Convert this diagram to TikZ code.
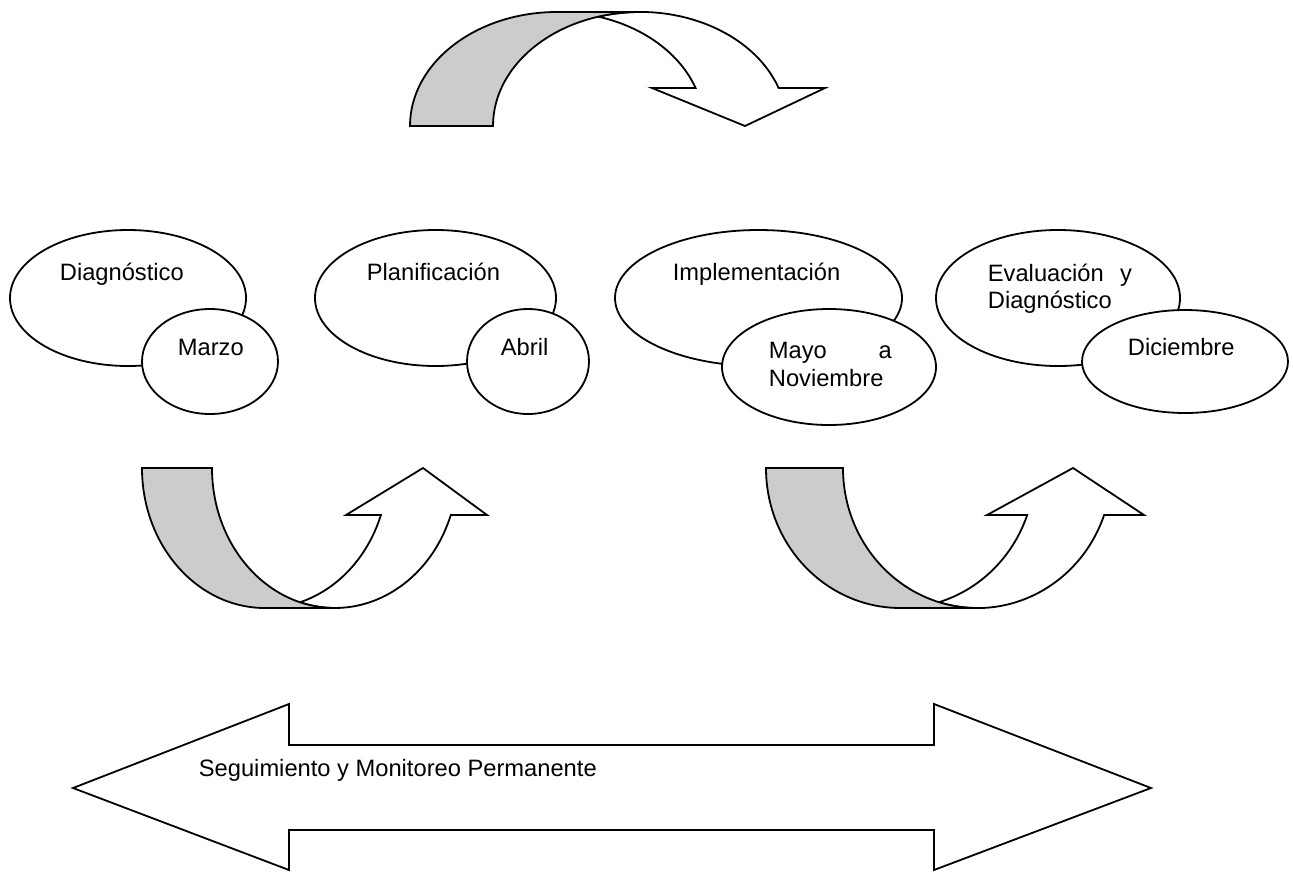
\documentclass[tikz,border=0pt]{standalone}
\usepackage{fontspec}
\setmainfont{Liberation Sans}
\usetikzlibrary{shapes.geometric}
\definecolor{bandgray}{RGB}{204,204,204}
\begin{document}
\begin{tikzpicture}[x=1pt,y=-1pt,line width=1.8pt,line join=miter,
  bubble/.style={draw,ellipse,fill=white,inner sep=0pt},
  lbl/.style={inner sep=0pt,anchor=base west,font=\fontsize{23.7}{28}\selectfont},
  band/.style={draw,fill=bandgray},
  head/.style={draw,fill=white}]
\useasboundingbox (0,0) rectangle (1293,871);

% top curved arrow
\draw[head] (598.5,16.6) arc[start angle=253.6,end angle=340.5,x radius=147,y radius=114]
  -- (825,88) -- (745,126) -- (652,88) -- (695.6,88)
  arc[start angle=340.5,end angle=286.4,x radius=147,y radius=114] -- cycle;
\draw[band] (410,126) arc[start angle=180,end angle=270,x radius=147,y radius=114]
  -- (640,12) arc[start angle=270,end angle=180,x radius=147,y radius=114] -- cycle;

% bottom-left curved arrow
\draw[head] (300,602.2) arc[start angle=106.5,end angle=19.6,x radius=123,y radius=140]
  -- (487,515) -- (423,468) -- (346,515) -- (380.9,515)
  arc[start angle=19.6,end angle=73.5,x radius=123,y radius=140] -- cycle;
\draw[band] (142,468) arc[start angle=180,end angle=90,x radius=123,y radius=140]
  -- (335,608) arc[start angle=90,end angle=180,x radius=123,y radius=140] -- cycle;

% bottom-right curved arrow
\draw[head] (939,602.2) arc[start angle=106.6,end angle=19.6,x radius=134.5,y radius=140]
  -- (1144,515) -- (1073,468) -- (987,515) -- (1027.2,515)
  arc[start angle=19.6,end angle=73.4,x radius=134.5,y radius=140] -- cycle;
\draw[band] (766,468) arc[start angle=180,end angle=90,x radius=134.5,y radius=140]
  -- (977.5,608) arc[start angle=90,end angle=180,x radius=134.5,y radius=140] -- cycle;

% double arrow
\draw[head] (73,788) -- (289,704) -- (289,745) -- (934,745) -- (934,704) -- (1151,788)
  -- (934,870) -- (934,830) -- (289,830) -- (289,870) -- cycle;

% ellipses
\node[bubble,minimum width=236pt,minimum height=136pt] (diag) at (128,298) {};
\node[bubble,minimum width=136pt,minimum height=105pt] (marzo) at (210,361.5) {};
\node[bubble,minimum width=241pt,minimum height=136pt] (plan) at (435.5,298) {};
\node[bubble,minimum width=122pt,minimum height=105pt] (abril) at (528,361.5) {};
\node[bubble,minimum width=287pt,minimum height=136pt] (impl) at (758.5,298) {};
\node[bubble,minimum width=214pt,minimum height=116pt] (mayo) at (829,367) {};
\node[bubble,minimum width=244pt,minimum height=136pt] (eval) at (1058,298) {};
\node[bubble,minimum width=206pt,minimum height=103pt] (dic) at (1185,361.5) {};

% texts
\node[lbl] (tdiag) at (59,280) {Diagnóstico};
\node[lbl] (tmarzo) at (177,355) {Marzo};
\node[lbl] (tplan) at (366,280) {Planificación};
\node[lbl] (tabril) at (500,355) {Abril};
\node[lbl] (timpl) at (672,280) {Implementación};
\node[lbl] (tmayo) at (768,358) {\makebox[123pt][s]{Mayo\hfill a}};
\node[lbl] (tnov) at (768,386) {Noviembre};
\node[lbl] (teval) at (987,281) {\makebox[144pt][s]{Evaluación\hfill y}};
\node[lbl] (tdiag2) at (987,308) {Diagnóstico};
\node[lbl] (tdic) at (1127,355) {Diciembre};
\node[lbl] (tseg) at (198,776) {Seguimiento y Monitoreo Permanente};
\end{tikzpicture}
\end{document}
